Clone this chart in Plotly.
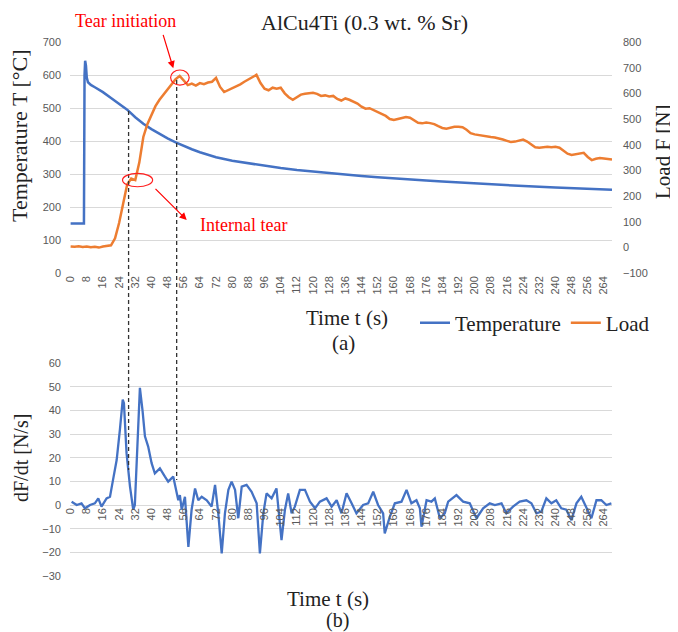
import plotly.graph_objects as go

# ---- data ----
temp_t = [0, 4, 6.6, 6.9, 7.2, 7.6, 8.0, 8.6, 10, 12, 16, 20, 24, 28, 32, 36, 40, 44, 48, 52,
          56, 60, 64, 68, 72, 80, 88, 96, 104, 112, 120, 128, 136, 144, 152, 160, 168, 176, 184, 192,
          200, 208, 216, 224, 232, 240, 248, 256, 264, 268]
temperature = [150, 150, 150, 600, 643, 628, 592, 578, 570, 563, 548, 530, 512, 495, 472, 452, 436, 421, 408, 396,
               385, 375, 366, 358, 351, 340, 332, 325, 318, 312, 307, 302, 298, 294, 290, 286, 283, 280, 277, 274,
               271, 268, 266, 263, 261, 259, 257, 255, 253, 252]

load_t = list(range(0, 269, 2))
load = [3, 2, 4, 1, 3, 0, 2, -1, 3, 5,            # 0-18
        8, 35, 95, 170, 245, 268, 262, 330, 430, 480,   # 20-38
        515, 550, 575, 595, 615, 632, 655, 668, 650, 632,  # 40-58
        638, 630, 640, 636, 642, 645, 660, 625, 605, 612,  # 60-78
        620, 628, 635, 645, 655, 662, 672, 640, 618, 612,  # 80-98
        622, 618, 622, 600, 585, 575, 585, 595, 598, 600,  # 100-118
        602, 598, 590, 592, 588, 590, 578, 572, 580, 575,  # 120-138
        568, 560, 548, 540, 542, 535, 528, 522, 512, 500,  # 140-158
        496, 500, 505, 508, 505, 495, 485, 483, 486, 484,  # 160-178
        480, 472, 465, 462, 466, 470, 470, 468, 458, 445,  # 180-198
        440, 437, 436, 432, 430, 428, 425, 420, 415, 410,  # 200-218
        412, 415, 420, 412, 400, 390, 388, 390, 392, 390,  # 220-238
        392, 388, 378, 365, 360, 362, 364, 368, 352, 340,  # 240-258
        345, 348, 346, 344, 342]                           # 260-268

dfdt_t = [0.5, 3, 5.4, 7.1, 9.6, 12, 13.7, 15.3, 17.8, 19.5,
          21, 22.8, 24.4, 25.8, 26.4, 27.7, 29.4, 31, 31.8, 33,
          34.3, 35.6, 36.8, 38.4, 40.1, 41.7, 44.2, 46.7, 48.3, 50.8,
          52.5, 53.3, 54.1, 55, 56.6, 58.3, 59.9, 61.6, 63.2, 64.9,
          67.4, 69.8, 71.5, 73.1, 74.8, 76.4, 78.1, 79.7, 81.4, 83,
          84.7, 87.1, 89.6, 92.1, 93.7, 95.4, 97, 99.5, 101.9, 103.3,
          104.4, 106.1, 107.7, 109.4, 111, 113.5, 116, 118.5, 121, 123.4,
          126.7, 129.2, 131.7, 134.1, 136.6, 139.1, 141.5, 144.8, 147.3, 149.8,
          152.2, 154.7, 155.5, 158, 160.5, 163.8, 166.3, 168.7, 171.2, 172.9,
          173.7, 176.2, 178.6, 180.3, 182.8, 185.2, 186.9, 191, 194.3, 197.6,
          200.9, 204.2, 207.5, 210, 213.3, 215.7, 219, 222.3, 225.6, 228.1,
          230.6, 233, 235.5, 238, 240.4, 242.9, 245.4, 247.9, 250.4, 252.8,
          255.3, 257.8, 260.3, 262.7, 265.2, 267.7]
dfdt = [1.4, 0, 0.7, -1.4, 0, 0.7, 2.8, -0.7, 2.8, 3.5,
        10.6, 19, 31.8, 44.5, 43, 21.9, 7.8, -2, 0, 22,
        49.5, 40, 29, 24.7, 17.7, 13.4, 15.5, 12, 9.9, 12,
        4.9, 2, 4.2, -2, 3.5, -17.7, -2, 7, 2, 3.5,
        2, -0.7, 8.5, -3.5, -20.5, -3.5, 6.4, 9.9, 6.4, -5.6,
        7.8, 8.5, 5.6, 0.7, -20.5, -3.5, 4.9, 2.8, 7, -6.4,
        -14.8, -2, 4.9, -3.5, -0.7, 6.4, 6.4, 1.4, -1.4, 1.4,
        2.8, -0.7, 2, -3.5, 5, 0.7, -3.5, 0, 0.7, 5.6,
        0, -3.5, -12, -5, 0.7, 1.4, 6.4, 0.7, 2, -1.4,
        -9.2, 2, 1.4, 2.8, -5.6, -3.5, 1.4, 4.2, 1.4, 0.7,
        -5.6, -1.4, 0.7, 0, 0.7, -3.5, -0.7, 1.4, 2, 0.7,
        -3.5, -2.8, 2.8, 0.7, 2, -1.4, -2, -6.4, 0.7, 3.5,
        -0.7, -5.6, 2, 2, 0, 0.7]

x_ticks = list(range(0, 265, 8))
tear_times = [28.7, 52.5]   # internal tear, tear initiation

BLUE = "#4472C4"
ORANGE = "#ED7D31"
GRID = "#d9d9d9"
TICK = dict(family="Liberation Sans", size=11, color="#595959")
SERIF = "Liberation Serif"
TXT = "#222222"

W, H = 678, 632
OFF = 8  # the page body adds an 8px margin, so work in window pixels minus that


def px_(x):
    # window pixel column -> paper x
    return (x - OFF) / W


def py(y):
    # window pixel row -> paper y
    return (H - (y - OFF)) / H


XDOM = [px_(70), px_(612)]

fig = go.Figure()
fig.add_trace(go.Scatter(x=temp_t, y=temperature, name="Temperature", mode="lines",
                         line=dict(color=BLUE, width=2.5), xaxis="x", yaxis="y"))
fig.add_trace(go.Scatter(x=load_t, y=load, name="Load", mode="lines",
                         line=dict(color=ORANGE, width=2.5), xaxis="x", yaxis="y2"))
fig.add_trace(go.Scatter(x=dfdt_t, y=dfdt, name="dF/dt", mode="lines", showlegend=False,
                         line=dict(color=BLUE, width=2.3), xaxis="x2", yaxis="y3"))

xcommon = dict(range=[-0.3, 268], tickvals=x_ticks, tickangle=-90, tickfont=TICK, automargin=False,
               showgrid=False, zeroline=False, showline=False, domain=XDOM)
fig.update_layout(
    width=W, height=H,
    margin=dict(l=0, r=0, t=0, b=0, autoexpand=False),
    paper_bgcolor="white", plot_bgcolor="white",
    xaxis=dict(anchor="y", **xcommon),
    xaxis2=dict(anchor="free", position=py(505), **xcommon),
    yaxis=dict(domain=[py(273), py(42)], range=[0, 700], dtick=100, tickfont=TICK, automargin=False,
               gridcolor=GRID, gridwidth=1, zeroline=False, ticklabelstandoff=8),
    yaxis2=dict(overlaying="y", side="right", range=[-100, 800], dtick=100, tickfont=TICK,
                automargin=False, showgrid=False, zeroline=False, ticklabelstandoff=10, anchor="x"),
    yaxis3=dict(domain=[py(576), py(363)], range=[-30, 60], dtick=10, tickfont=TICK, automargin=False,
                gridcolor=GRID, gridwidth=1, zeroline=False, anchor="x2", ticklabelstandoff=8),
    legend=dict(orientation="h", x=px_(415), y=py(323), xanchor="left", yanchor="middle",
                font=dict(family=SERIF, size=21, color=TXT), bgcolor="rgba(0,0,0,0)",
                itemwidth=30, tracegroupgap=0),
    showlegend=True,
)

# dashed guide lines spanning both panels
for t, top, bottom in zip(tear_times, [111, 80], [470, 480]):
    fig.add_shape(type="line", xref="x", yref="paper", x0=t, x1=t, y0=py(top), y1=py(bottom),
                  line=dict(color="#333333", width=1.3, dash="4px,3px"))

# red ellipses on the load curve
fig.add_shape(type="circle", xref="x", yref="y2", x0=49.5, x1=58.7, y0=632, y1=691,
              line=dict(color="#ff2020", width=1.2))
fig.add_shape(type="circle", xref="x", yref="y2", x0=25.7, x1=40.6, y0=236, y1=288,
              line=dict(color="#ff2020", width=1.2))

ann = []
ann.append(dict(text="AlCu4Ti (0.3 wt. % Sr)", x=px_(364), y=1.0, yanchor="top",
                font=dict(family=SERIF, size=22, color=TXT)))
ann.append(dict(text="Tear initiation", x=px_(125), y=py(21), font=dict(family=SERIF, size=18, color="#ff0000")))
ann.append(dict(text="Internal tear", x=px_(243), y=py(225), font=dict(family=SERIF, size=18, color="#ff0000")))
ann.append(dict(text="Time t (s)", x=px_(347), y=py(318), font=dict(family=SERIF, size=21, color=TXT)))
ann.append(dict(text="(a)", x=px_(343), y=py(343), font=dict(family=SERIF, size=21, color=TXT)))
ann.append(dict(text="Time t (s)", x=px_(328), y=py(599), font=dict(family=SERIF, size=21, color=TXT)))
ann.append(dict(text="(b)", x=px_(337), y=py(620), font=dict(family=SERIF, size=20, color=TXT)))
ann.append(dict(text="Temperature T [°C]", x=px_(20), y=py(136), textangle=-90,
                font=dict(family=SERIF, size=22, color=TXT)))
ann.append(dict(text="Load F [N]", x=px_(663), y=py(152), textangle=-90,
                font=dict(family=SERIF, size=21, color=TXT)))
ann.append(dict(text="dF/dt [N/s]", x=px_(21), y=py(458), textangle=-90,
                font=dict(family=SERIF, size=20, color=TXT)))
for a in ann:
    a.setdefault("yanchor", "middle")
    a.update(xref="paper", yref="paper", showarrow=False, xanchor="center")
    fig.add_annotation(**a)

# red arrows
for hx, hy, tx, ty in [(173.3, 68.3, 162.7, 33.3), (186.7, 220, 154, 187.3)]:
    fig.add_annotation(x=px_(hx), y=py(hy), xref="paper", yref="paper", text="", showarrow=True,
                       ax=tx - hx, ay=ty - hy, arrowhead=2, arrowsize=1.2, arrowwidth=1.2,
                       arrowcolor="#ff0000")

fig.write_html("out.html")
